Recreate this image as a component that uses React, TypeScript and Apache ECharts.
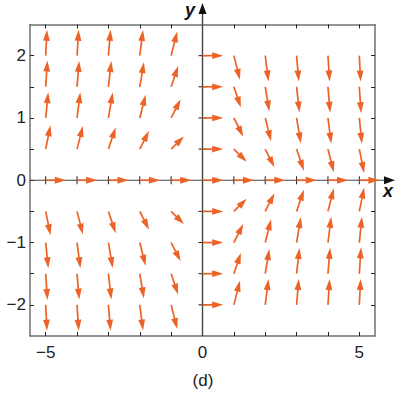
import React, { useEffect, useRef } from "react";
import * as echarts from "echarts";

// Grid points of the vector field
const XS = [-5, -4, -3, -2, -1, 0, 1, 2, 3, 4, 5];
const YS = [2, 1.5, 1, 0.5, 0, -0.5, -1, -1.5, -2];

// x-components (data units), one row per YS value, one column per XS value
const U = [
  [0.042, 0.052, 0.069, 0.104, 0.194, 0.66, 0.194, 0.104, 0.069, 0.052, 0.042],
  [0.056, 0.069, 0.092, 0.132, 0.223, 0.66, 0.223, 0.132, 0.092, 0.069, 0.056],
  [0.083, 0.104, 0.137, 0.187, 0.301, 0.66, 0.301, 0.187, 0.137, 0.104, 0.083],
  [0.154, 0.187, 0.233, 0.294, 0.408, 0.66, 0.408, 0.294, 0.233, 0.187, 0.154],
  [0.64, 0.64, 0.64, 0.64, 0.64, 0.66, 0.64, 0.64, 0.64, 0.64, 0.64],
  [0.154, 0.187, 0.233, 0.294, 0.408, 0.66, 0.408, 0.294, 0.233, 0.187, 0.154],
  [0.083, 0.104, 0.137, 0.187, 0.301, 0.66, 0.301, 0.187, 0.137, 0.104, 0.083],
  [0.056, 0.069, 0.092, 0.132, 0.223, 0.66, 0.223, 0.132, 0.092, 0.069, 0.056],
  [0.042, 0.052, 0.069, 0.104, 0.194, 0.66, 0.194, 0.104, 0.069, 0.052, 0.042],
];

// y-components (data units)
const V = [
  [0.416, 0.415, 0.415, 0.413, 0.388, 0, -0.388, -0.413, -0.415, -0.415, -0.416],
  [0.423, 0.415, 0.413, 0.395, 0.334, 0, -0.334, -0.395, -0.413, -0.415, -0.423],
  [0.414, 0.413, 0.41, 0.372, 0.3, 0, -0.3, -0.372, -0.41, -0.413, -0.414],
  [0.384, 0.372, 0.349, 0.293, 0.204, 0, -0.204, -0.293, -0.349, -0.372, -0.384],
  [0, 0, 0, 0, 0, 0, 0, 0, 0, 0, 0],
  [-0.384, -0.372, -0.349, -0.293, -0.204, 0, 0.204, 0.293, 0.349, 0.372, 0.384],
  [-0.414, -0.413, -0.41, -0.372, -0.3, 0, 0.3, 0.372, 0.41, 0.413, 0.414],
  [-0.423, -0.415, -0.413, -0.395, -0.334, 0, 0.334, 0.395, 0.413, 0.415, 0.423],
  [-0.416, -0.415, -0.415, -0.413, -0.388, 0, 0.388, 0.413, 0.415, 0.415, 0.416],
];

const X_TICKS = [-5, -4, -3, -2, -1, 0, 1, 2, 3, 4, 5];
const Y_TICKS = [-2, -1.5, -1, -0.5, 0, 0.5, 1, 1.5, 2];
const X_AXIS_TICKS = [-5, -4, -3, -2, -1, 1, 2, 3, 4, 5];
const Y_AXIS_TICKS = [-2, -1.5, -1, -0.5, 0.5, 1, 1.5, 2];
const X_LABELS = [-5, 0, 5];
const Y_LABELS = [-2, -1, 0, 1, 2];
const X_MIN = -5.5, X_MAX = 5.5, Y_MIN = -2.5, Y_MAX = 2.5;

const ARROW_COLOR = "#ec6328";
const FRAME_COLOR = "#707070";
const FONT = "'Liberation Sans', Arial, sans-serif";

const fmt = (v: number) => (v < 0 ? "\u2212" + Math.abs(v) : String(v));

export default function App() {
  const ref = useRef<HTMLDivElement>(null);
  useEffect(() => {
    if (!ref.current) return;
    const chart = echarts.init(ref.current, undefined, { renderer: "svg" });

    const vecData: number[][] = [];
    YS.forEach((y, i) => {
      XS.forEach((x, j) => {
        vecData.push([x, y, U[i][j], V[i][j]]);
      });
    });

    const arrowItem = (api: any) => {
      const x = api.value(0), y = api.value(1), u = api.value(2), v = api.value(3);
      const p0 = api.coord([x, y]);
      const p1 = api.coord([x + u, y + v]);
      const dx = p1[0] - p0[0], dy = p1[1] - p0[1];
      const L = Math.sqrt(dx * dx + dy * dy) || 1;
      const ux = dx / L, uy = dy / L;
      const px = -uy, py = ux;
      const h = Math.min(11, L * 0.6);
      const w = 3.4;
      const bx = p1[0] - ux * h, by = p1[1] - uy * h;
      return {
        type: "group",
        children: [
          {
            type: "line",
            shape: { x1: p0[0], y1: p0[1], x2: bx + ux * 2, y2: by + uy * 2 },
            style: { stroke: ARROW_COLOR, lineWidth: 1.7 },
          },
          {
            type: "polygon",
            shape: { points: [[p1[0], p1[1]], [bx + px * w, by + py * w], [bx - px * w, by - py * w]] },
            style: { fill: ARROW_COLOR },
          },
        ],
      };
    };

    const axesItem = (params: any, api: any) => {
      const children: any[] = [];
      const axisColor = "#444";
      const xl = api.coord([X_MIN, 0]);
      const xr = api.coord([X_MAX, 0]);
      const yb = api.coord([0, Y_MIN]);
      const yt = api.coord([0, Y_MAX]);
      const xTip = xr[0] + 20;
      const yTip = yt[1] - 21.5;
      children.push({ type: "line", shape: { x1: xl[0], y1: xl[1], x2: xTip - 8, y2: xl[1] }, style: { stroke: axisColor, lineWidth: 1.2 } });
      children.push({ type: "polygon", shape: { points: [[xTip, xl[1]], [xTip - 11, xl[1] - 4], [xTip - 11, xl[1] + 4]] }, style: { fill: "#111" } });
      children.push({ type: "line", shape: { x1: yb[0], y1: yb[1], x2: yb[0], y2: yTip + 8 }, style: { stroke: axisColor, lineWidth: 1.4 } });
      children.push({ type: "polygon", shape: { points: [[yb[0], yTip], [yb[0] - 4, yTip + 11], [yb[0] + 4, yTip + 11]] }, style: { fill: "#111" } });
      X_AXIS_TICKS.forEach((t) => {
        const p = api.coord([t, 0]);
        children.push({ type: "line", shape: { x1: p[0], y1: p[1] - 4, x2: p[0], y2: p[1] + 4 }, style: { stroke: "#222", lineWidth: 1 } });
      });
      Y_AXIS_TICKS.forEach((t) => {
        const p = api.coord([0, t]);
        children.push({ type: "line", shape: { x1: p[0] - 4, y1: p[1], x2: p[0] + 4, y2: p[1] }, style: { stroke: "#222", lineWidth: 1 } });
      });
      return { type: "group", children };
    };

    const frameX = (position: string, showLabel: boolean) => ({
      type: "value",
      position,
      min: X_MIN,
      max: X_MAX,
      splitLine: { show: false },
      axisLine: { show: true, onZero: false, lineStyle: { color: FRAME_COLOR, width: 1.5 } },
      axisTick: { show: true, inside: true, length: 4, customValues: X_TICKS, lineStyle: { color: "#222", width: 1 } },
      axisLabel: {
        show: showLabel,
        customValues: X_LABELS,
        formatter: fmt,
        fontSize: 17,
        color: "#222",
        margin: 8,
        fontFamily: FONT,
      },
    });
    const frameY = (position: string, showLabel: boolean) => ({
      type: "value",
      position,
      min: Y_MIN,
      max: Y_MAX,
      splitLine: { show: false },
      axisLine: { show: true, onZero: false, lineStyle: { color: FRAME_COLOR, width: 1.5 } },
      axisTick: { show: true, inside: true, length: 4, customValues: Y_TICKS, lineStyle: { color: "#222", width: 1 } },
      axisLabel: {
        show: showLabel,
        customValues: Y_LABELS,
        formatter: fmt,
        fontSize: 17,
        color: "#222",
        margin: 4,
        fontFamily: FONT,
      },
    });

    chart.setOption({
      animation: false,
      backgroundColor: "#ffffff",
      grid: { left: 30, right: 30, top: 24.5, bottom: 57, containLabel: false, outerBoundsMode: "none" },
      xAxis: [frameX("bottom", true), frameX("top", false)],
      yAxis: [frameY("left", true), frameY("right", false)],
      series: [
        {
          type: "custom",
          xAxisIndex: 0,
          yAxisIndex: 0,
          z: 1,
          clip: false,
          data: [[0, 0]],
          renderItem: axesItem,
          silent: true,
        },
        {
          type: "custom",
          xAxisIndex: 0,
          yAxisIndex: 0,
          z: 3,
          clip: false,
          data: vecData,
          encode: { x: 0, y: 1 },
          renderItem: (params: any, api: any) => arrowItem(api),
          silent: true,
        },
      ],
      graphic: [
        {
          type: "text",
          x: 388,
          y: 191,
          style: { text: "x", fontSize: 18, fontStyle: "italic", fontWeight: "bold", fontFamily: FONT, fill: "#111", textAlign: "center", textVerticalAlign: "middle" },
        },
        {
          type: "text",
          x: 190,
          y: 10,
          style: { text: "y", fontSize: 18, fontStyle: "italic", fontWeight: "bold", fontFamily: FONT, fill: "#111", textAlign: "center", textVerticalAlign: "middle" },
        },
        {
          type: "text",
          x: 203,
          y: 380,
          style: { text: "(d)", fontSize: 17, fontFamily: FONT, fill: "#222", textAlign: "center", textVerticalAlign: "middle" },
        },
      ],
    });
    return () => chart.dispose();
  }, []);
  return <div ref={ref} style={{ position: "fixed", left: 0, top: 0, width: 405, height: 393 }} />;
}
